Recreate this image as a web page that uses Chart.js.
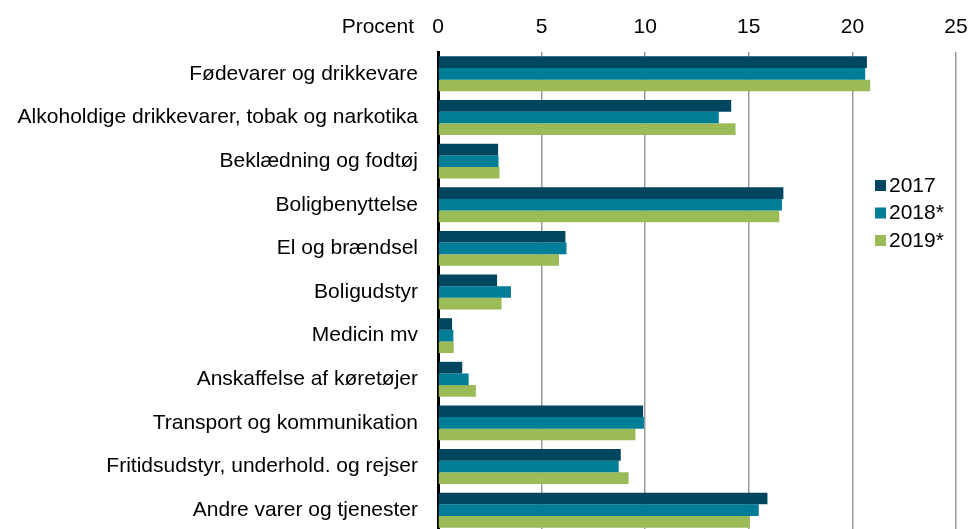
<!DOCTYPE html>
<html>
<head>
<meta charset="utf-8">
<script src="https://cdn.jsdelivr.net/npm/chart.js@4.4.1/dist/chart.umd.min.js"></script>
<style>
  html, body { margin: 0; padding: 0; background: #fff; overflow: hidden; }
  canvas { display: block; }
</style>
</head>
<body>
<canvas id="chart" width="970" height="540"></canvas>
<script>
const categories = [
    'Fødevarer og drikkevare',
    'Alkoholdige drikkevarer, tobak og narkotika',
    'Beklædning og fodtøj',
    'Boligbenyttelse',
    'El og brændsel',
    'Boligudstyr',
    'Medicin mv',
    'Anskaffelse af køretøjer',
    'Transport og kommunikation',
    'Fritidsudstyr, underhold. og rejser',
    'Andre varer og tjenester'
];
const seriesNames = ['2017', '2018*', '2019*'];
const values2017 = [20.7, 14.15, 2.9, 16.67, 6.15, 2.85, 0.68, 1.17, 9.9, 8.82, 15.9];
const values2018 = [20.62, 13.55, 2.92, 16.6, 6.2, 3.52, 0.74, 1.48, 9.94, 8.72, 15.48];
const values2019 = [20.86, 14.36, 2.97, 16.47, 5.84, 3.07, 0.76, 1.83, 9.53, 9.2, 15.05];
const xTicks = [0, 5, 10, 15, 20, 25];
const axisTitle = 'Procent';

const colors = ['#00465e', '#007e97', '#9bbb59'];
const fontFamily = 'Arial, "Liberation Sans", sans-serif';
const fontSize = 21;

// "Procent" next to the top tick labels + legend inside the plot area
const extras = {
    id: 'extras',
    afterDraw(chart) {
        const ctx = chart.ctx;
        const x = chart.scales.x;
        ctx.save();
        ctx.font = fontSize + 'px ' + fontFamily;
        ctx.fillStyle = '#000';
        ctx.textAlign = 'right';
        ctx.textBaseline = 'middle';
        ctx.fillText(axisTitle, x.left - 24, 27);

        ctx.textAlign = 'left';
        chart.data.datasets.forEach((ds, i) => {
            const y = 186 + i * 27.5;
            ctx.fillStyle = ds.backgroundColor;
            ctx.fillRect(875, y - 6, 11, 11);
            ctx.fillStyle = '#000';
            ctx.fillText(ds.label, 889, y);
        });
        ctx.restore();
    }
};

new Chart(document.getElementById('chart'), {
    type: 'bar',
    data: {
        labels: categories,
        datasets: [values2017, values2018, values2019].map((vals, i) => ({
            label: seriesNames[i],
            data: vals,
            backgroundColor: colors[i],
            categoryPercentage: 0.8,
            barPercentage: 1.0
        }))
    },
    options: {
        indexAxis: 'y',
        responsive: false,
        animation: false,
        layout: { padding: { left: 12, right: 14, top: 0, bottom: 8 } },
        plugins: {
            legend: { display: false },
            tooltip: { enabled: false }
        },
        scales: {
            x: {
                position: 'top',
                min: 0,
                max: 25,
                afterBuildTicks(axis) {
                    axis.ticks = xTicks.map(v => ({ value: v }));
                },
                afterFit(axis) {
                    axis.height = 52;
                    axis.paddingLeft = 0;
                    axis.paddingRight = 0;
                },
                grid: { color: '#9a9a9a', lineWidth: 1.5, drawTicks: false },
                border: { display: false },
                ticks: {
                    color: '#000',
                    font: { size: fontSize, family: fontFamily },
                    padding: 12
                }
            },
            y: {
                afterFit(axis) {
                    axis.width = 426;
                    axis.paddingTop = 0;
                    axis.paddingBottom = 0;
                },
                grid: { display: false, drawTicks: false },
                border: { display: true, color: '#000', width: 3 },
                ticks: {
                    color: '#000',
                    font: { size: fontSize, family: fontFamily },
                    padding: 20
                }
            }
        }
    },
    plugins: [extras]
});
</script>
</body>
</html>
